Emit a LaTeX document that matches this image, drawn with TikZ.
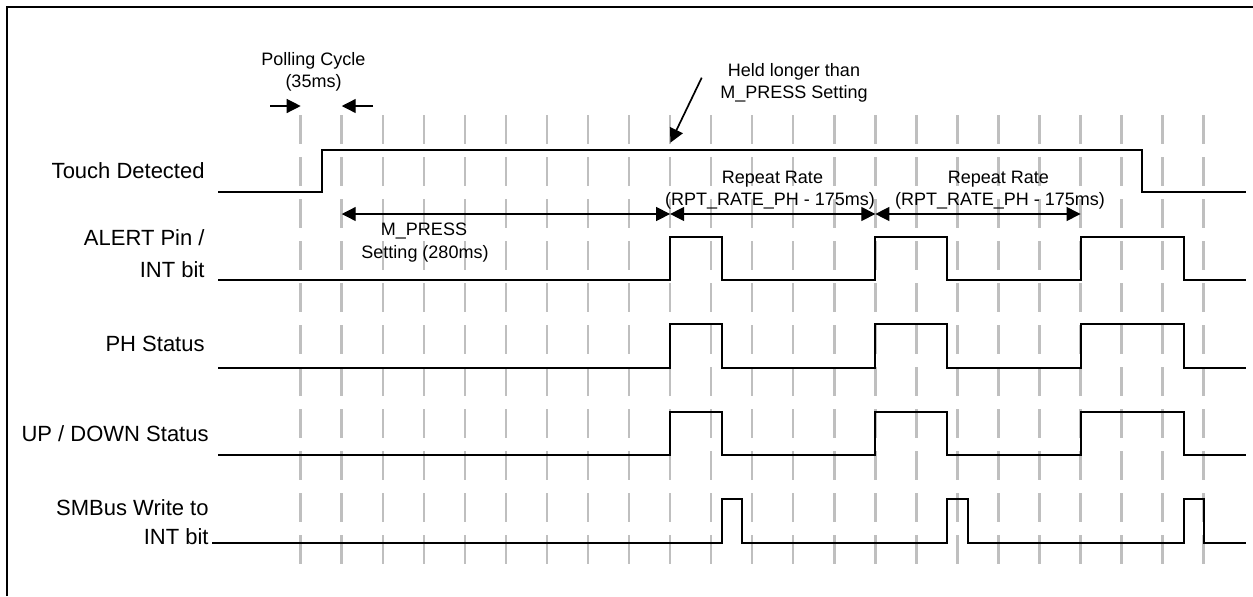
\documentclass[tikz,border=0pt]{standalone}
\usepackage{fontspec}
\setmainfont{Liberation Sans}
\usetikzlibrary{arrows.meta}

\begin{document}
\begin{tikzpicture}[x=0.5pt,y=-0.5pt,
  sig/.style={line width=1pt},
  tick/.style={gray!50,line width=1.25pt,dash pattern=on 14.25pt off 6.75pt},
  dim/.style={line width=0.65pt,-{Triangle[length=7pt,width=7pt]}},
  dimboth/.style={line width=0.65pt,{Triangle[length=7pt,width=7pt]}-{Triangle[length=7pt,width=7pt]}},
  siglabel/.style={font=\fontsize{11}{13}\selectfont,anchor=base east,inner sep=0pt},
  note/.style={font=\fontsize{9}{11}\selectfont,anchor=base,inner sep=0pt}]
\useasboundingbox (0,0) rectangle (1253,596);
\draw[line width=1.15pt] (6.7,596) -- (6.7,6.7) -- (1253,6.7);
% polling grid
\foreach \k in {0,...,22}{
  \coordinate (t\k) at ({300.7+41.045*\k},115);
  \draw[tick] (t\k) -- ++(0,448.5);
}
\coordinate (pollrow) at (0,106);
\coordinate (dimrow) at (0,214);
% signals
\draw[sig] (218,192) -- (321.7,192) -- (321.7,150) -- (1142.3,150) -- (1142.3,192) -- (1246,192);
\foreach \lo/\hi in {280/236.7,367.7/324,455/411.7}
  \draw[sig] (218,\lo) -- (670.1,\lo) -- (670.1,\hi) -- (722,\hi) -- (722,\lo) -- (875.3,\lo) -- (875.3,\hi) -- (947.3,\hi) -- (947.3,\lo)
    -- (1080.6,\lo) -- (1080.6,\hi) -- (1183.7,\hi) -- (1183.7,\lo) -- (1246,\lo);
\draw[sig] (212,542.7) -- (721.7,542.7) -- (721.7,499) -- (742.3,499) -- (742.3,542.7) -- (947.3,542.7) -- (947.3,499) -- (968,499) -- (968,542.7)
  -- (1183.5,542.7) -- (1183.5,499) -- (1204,499) -- (1204,542.7) -- (1246,542.7);
% signal names
\node[siglabel] (touch) at (205,178) {Touch Detected};
\node[siglabel] (alert) at (205,245) {ALERT Pin /};
\node[siglabel] (alertint) at (205,277.3) {INT bit};
\node[siglabel] (ph) at (205,351.7) {PH Status};
\node[siglabel] (updown) at (209,441.7) {UP / DOWN Status};
\node[siglabel] (smbus) at (209,515) {SMBus Write to};
\node[siglabel] (smbusint) at (209,544) {INT bit};
% notes
\node[note] (poll) at (313.5,65) {Polling Cycle};
\node[note] (pollms) at (313.5,87.3) {(35ms)};
\node[note] (held) at (794,76) {Held longer than};
\node[note] (heldm) at (794,98.3) {M\_PRESS Setting};
\node[note] (mpress) at (424,235) {M\_PRESS};
\node[note] (mpressms) at (425,258) {Setting (280ms)};
\node[note] (rep1) at (772.5,183) {Repeat Rate};
\node[note] (rep1ms) at (770,205) {(RPT\_RATE\_PH - 175ms)};
\node[note] (rep2) at (998.3,183) {Repeat Rate};
\node[note] (rep2ms) at (1000,205) {(RPT\_RATE\_PH - 175ms)};
% arrows
\coordinate (pollL) at (270,106);
\coordinate (pollR) at (373,106);
\draw[dim] (pollL) -- (t0 |- pollrow);
\draw[dim] (pollR) -- (t1 |- pollrow);
\coordinate (heldtail) at (701.7,77.7);
\coordinate (heldtip) at (670.4,142.7);
\draw[dim,line width=0.85pt] (heldtail) -- (heldtip);
\draw[dimboth] (t1 |- dimrow) -- (t9 |- dimrow);
\draw[dimboth] (t9 |- dimrow) -- (t14 |- dimrow);
\draw[dimboth] (t14 |- dimrow) -- (t19 |- dimrow);
\end{tikzpicture}
\end{document}
